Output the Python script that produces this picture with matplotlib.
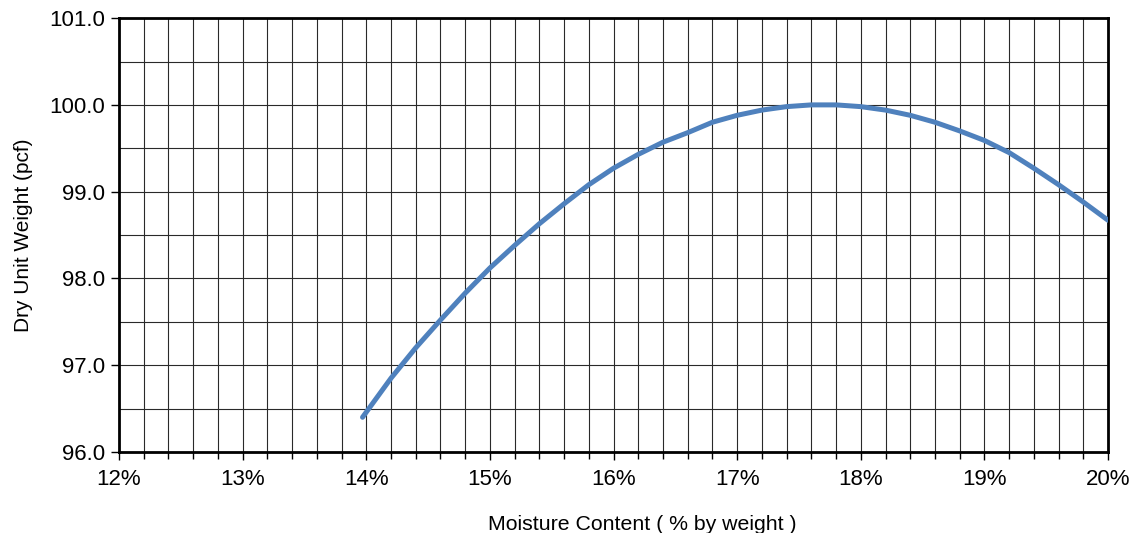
import matplotlib
matplotlib.use("Agg")
import matplotlib.pyplot as plt
from matplotlib.ticker import MultipleLocator, FuncFormatter

moisture = [13.97, 14.2, 14.4, 14.6, 14.8, 15.0, 15.2, 15.4, 15.6, 15.8, 16.0, 16.2, 16.4, 16.6,
            16.8, 17.0, 17.2, 17.4, 17.6, 17.8, 18.0, 18.2, 18.4, 18.6, 18.8, 19.0, 19.2, 19.4,
            19.6, 19.8, 20.0]
dry_unit_weight = [96.40, 96.85, 97.20, 97.52, 97.83, 98.12, 98.38, 98.63, 98.86, 99.08, 99.27,
                   99.43, 99.57, 99.68, 99.80, 99.88, 99.94, 99.98, 100.0, 100.0, 99.98, 99.94,
                   99.88, 99.80, 99.70, 99.59, 99.45, 99.27, 99.08, 98.88, 98.67]

plt.rcParams['font.family'] = ['Liberation Sans', 'DejaVu Sans']

fig = plt.figure(figsize=(11.33, 5.33), dpi=100)
ax = fig.add_axes([0.105, 0.152, 0.873, 0.814])

ax.plot(moisture, dry_unit_weight, color='#4F81BD', lw=3.6, solid_capstyle='round',
        solid_joinstyle='round', zorder=3)

ax.set_xlim(12, 20)
ax.set_ylim(96, 101)
ax.xaxis.set_major_locator(MultipleLocator(1))
ax.xaxis.set_minor_locator(MultipleLocator(0.2))
ax.yaxis.set_major_locator(MultipleLocator(1))
ax.yaxis.set_minor_locator(MultipleLocator(0.5))
ax.xaxis.set_major_formatter(FuncFormatter(lambda v, p: f"{v:.0f}%"))
ax.yaxis.set_major_formatter(FuncFormatter(lambda v, p: f"{v:.1f}"))

ax.grid(which='both', color='#2a2a2a', lw=0.8, zorder=1)
ax.set_axisbelow(True)
for s in ax.spines.values():
    s.set_linewidth(2.0)
    s.set_color('black')

ax.tick_params(axis='x', which='major', direction='out', length=6, width=1, labelsize=16, pad=6)
ax.tick_params(axis='x', which='minor', direction='out', length=5, width=1)
ax.tick_params(axis='y', which='major', direction='out', length=6, width=1, labelsize=16, pad=4)
ax.tick_params(axis='y', which='minor', length=0)

ax.set_xlabel('Moisture Content ( % by weight )', fontsize=15.3, labelpad=16)
ax.xaxis.set_label_coords(0.529, -0.145)
ax.set_ylabel('Dry Unit Weight (pcf)', fontsize=15, labelpad=12)

fig.savefig('out.png', dpi=100)
